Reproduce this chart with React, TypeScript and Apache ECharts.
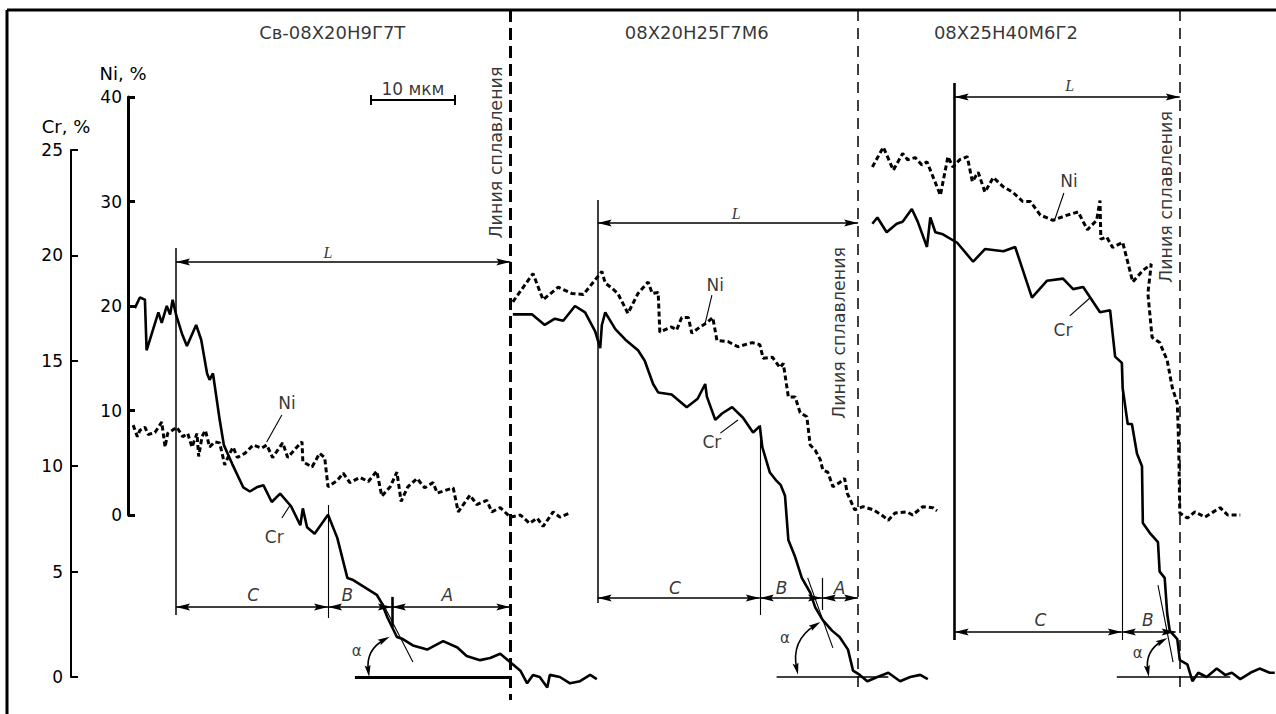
import React, { useEffect, useRef } from 'react';
import * as echarts from 'echarts';

type Pt = [number, number];

// ---------- axes ----------
const crAxisName = 'Cr, %';
const niAxisName = 'Ni, %';
const crTicks = { min: 0, max: 25, interval: 5 };
const niTicks = { min: 0, max: 40, interval: 10 };

// ---------- titles ----------
const panelTitles = ['Св-08Х20Н9Г7Т', '08Х20Н25Г7М6', '08Х25Н40М6Г2'];
const fusionLabel = 'Линия сплавления';
const scaleLabel = '10 мкм';

// ---------- data: x = distance, μm ; y = %, ----------
const crPanel1: Pt[] = [
  [7.6, 17.5], [8.2, 18.0], [8.8, 17.9], [9.0, 15.5], [10.4, 17.3], [10.8, 16.8], [11.4, 17.6], [11.8, 17.2],
  [12.1, 17.9], [12.5, 17.2], [13.2, 16.3], [13.8, 15.7], [14.9, 16.7], [15.5, 16.0], [16.2, 14.4], [16.5, 14.1],
  [16.9, 14.4], [17.7, 12.2], [18.2, 11.0], [19.2, 10.1], [20.5, 9.0], [21.3, 8.8], [22.1, 9.0], [22.9, 9.1],
  [23.9, 8.3], [24.9, 8.7], [26.2, 8.1], [27.3, 7.2], [27.6, 8.0], [28.1, 7.1], [29.0, 6.8], [30.6, 7.7],
  [31.7, 6.6], [32.9, 4.7], [33.6, 4.6], [36.4, 3.9], [37.0, 3.5], [37.7, 2.8], [38.8, 1.9], [39.5, 1.8],
  [40.7, 1.5], [42.4, 1.3], [44.3, 1.7], [46.0, 1.4], [47.1, 1.0], [48.7, 0.8], [49.9, 0.9], [51.1, 1.1],
  [52.3, 0.7], [53.5, 0.3], [54.3, -0.3], [55.0, 0.1], [55.8, 0.0], [56.7, -0.5], [57.0, 0.1], [58.2, 0.0],
  [59.4, -0.3], [60.6, -0.2], [61.8, 0.1], [62.6, -0.1],
];
const niPanel1: Pt[] = [
  [7.4, 8.6], [7.9, 7.5], [8.2, 8.1], [8.8, 8.4], [9.2, 7.7], [10.0, 7.9], [10.8, 8.9], [11.2, 6.5],
  [11.5, 7.8], [12.6, 8.4], [13.3, 7.5], [13.9, 7.8], [14.4, 6.5], [15.0, 7.8], [15.2, 5.6], [15.6, 7.5],
  [16.0, 8.1], [16.5, 6.5], [17.1, 7.0], [17.7, 6.9], [18.3, 4.8], [18.9, 5.9], [19.3, 6.5], [19.8, 5.5],
  [20.7, 5.9], [21.7, 6.7], [22.7, 6.4], [23.3, 6.7], [24.0, 5.5], [25.2, 6.9], [25.8, 5.5], [26.9, 6.5],
  [27.5, 7.0], [27.6, 5.1], [28.7, 4.6], [29.6, 5.9], [30.2, 5.5], [30.6, 2.7], [31.7, 3.3], [32.4, 4.0],
  [33.2, 3.1], [34.4, 3.6], [35.4, 3.2], [36.4, 4.2], [37.0, 1.8], [38.0, 2.7], [38.8, 4.1], [39.3, 1.3],
  [40.1, 2.7], [41.2, 3.5], [42.1, 2.6], [43.1, 3.1], [43.6, 2.1], [45.5, 2.6], [46.1, 0.3], [47.5, 1.9],
  [48.3, 1.0], [49.5, 1.4], [50.1, 0.3], [51.1, 0.7], [52.3, -0.2], [53.5, 0.0], [54.6, -0.8], [55.5, -0.3],
  [56.2, -1.1], [57.4, 0.3], [58.2, -0.2], [59.4, 0.2],
];
const crPanel2: Pt[] = [
  [52.6, 17.2], [54.9, 17.2], [56.4, 16.7], [57.6, 17.0], [58.6, 16.9], [60.0, 17.6], [61.2, 17.3], [62.4, 16.4],
  [63.0, 15.6], [63.2, 16.7], [63.6, 17.3], [64.8, 16.5], [66.0, 16.0], [67.5, 15.5], [68.3, 15.0], [69.3, 13.9],
  [69.9, 13.5], [71.5, 13.4], [73.3, 12.8], [74.6, 13.2], [75.5, 13.9], [75.7, 13.3], [76.7, 12.2], [77.5, 12.5],
  [78.7, 12.8], [80.0, 12.3], [81.2, 11.6], [82.0, 11.9], [82.3, 10.9], [83.2, 9.7], [84.0, 9.3], [84.5, 9.1],
  [85.0, 8.6], [85.4, 6.5], [86.2, 5.7], [87.0, 4.7], [88.0, 4.0], [88.6, 3.3], [89.5, 2.7], [90.6, 2.2],
  [91.5, 1.9], [92.5, 1.3], [93.1, 0.3], [93.9, 0.1], [94.8, -0.2], [96.0, 0.0], [97.3, 0.2], [98.7, -0.2],
  [99.9, 0.0], [101.1, 0.1], [102.0, -0.1],
];
const niPanel2: Pt[] = [
  [52.6, 20.4], [55.0, 23.1], [56.2, 20.6], [58.0, 21.8], [59.6, 21.2], [61.0, 21.1], [63.2, 23.3], [63.6, 22.2],
  [64.4, 21.7], [65.1, 21.2], [66.3, 19.3], [67.5, 21.2], [68.7, 22.3], [69.2, 21.2], [69.9, 21.3], [70.1, 17.5],
  [71.5, 18.0], [72.1, 17.7], [72.7, 18.9], [73.5, 18.9], [73.9, 17.4], [74.9, 18.0], [75.7, 18.4], [76.4, 18.9],
  [76.9, 16.7], [78.2, 16.6], [79.4, 16.1], [81.1, 16.5], [82.0, 16.3], [82.4, 15.0], [83.5, 15.1], [84.4, 14.1],
  [84.8, 14.5], [85.4, 11.3], [86.2, 11.3], [86.8, 9.8], [87.6, 9.4], [88.0, 6.7], [88.6, 6.2], [89.2, 5.3],
  [89.5, 4.3], [90.1, 4.1], [90.7, 2.7], [91.5, 3.1], [92.1, 3.5], [92.4, 2.1], [93.3, 0.5], [94.3, 0.8],
  [95.5, 0.5], [96.5, 0.0], [97.3, -0.5], [98.1, 0.2], [99.5, 0.3], [100.2, 0.0], [101.4, 0.8], [102.6, 0.7],
  [103.1, 0.4],
];
const crPanel3: Pt[] = [
  [95.4, 21.5], [96.0, 21.8], [97.1, 21.1], [98.3, 21.5], [99.0, 21.6], [100.1, 22.2], [100.8, 21.6], [101.9, 20.4],
  [102.3, 21.8], [102.9, 21.1], [103.8, 21.0], [105.5, 20.6], [107.4, 19.7], [108.8, 20.3], [111.0, 20.2], [112.4, 20.4],
  [114.4, 18.0], [116.2, 18.8], [118.1, 18.9], [119.3, 18.4], [120.5, 18.5], [122.5, 17.3], [123.7, 17.4], [124.3, 15.2],
  [125.1, 14.9], [125.2, 13.7], [125.8, 12.0], [126.3, 12.0], [126.9, 10.6], [127.5, 10.0], [127.6, 7.3], [128.5, 6.8],
  [129.4, 6.4], [129.6, 5.0], [130.2, 4.7], [130.5, 3.0], [130.8, 2.2], [131.7, 1.8], [132.0, 0.8], [132.9, 0.6],
  [133.5, -0.2], [134.2, 0.2], [135.2, 0.0], [136.4, 0.4], [137.4, 0.1], [138.2, 0.2], [139.2, -0.1], [140.4, 0.2],
  [141.5, 0.4], [142.7, 0.2], [143.3, 0.2],
];
const niPanel3: Pt[] = [
  [95.4, 33.3], [96.7, 35.2], [97.9, 33.0], [99.0, 34.6], [99.6, 34.0], [100.5, 34.2], [101.3, 33.5], [101.9, 33.8],
  [103.5, 30.6], [104.4, 34.3], [105.0, 33.3], [105.8, 34.0], [106.7, 34.3], [107.3, 31.9], [108.0, 32.8], [108.8, 30.9],
  [109.8, 32.3], [111.0, 31.4], [112.1, 30.9], [113.3, 30.0], [114.2, 30.0], [115.4, 28.7], [116.9, 28.2], [118.6, 28.7],
  [119.9, 29.0], [121.0, 27.3], [122.1, 28.2], [122.5, 30.1], [122.6, 26.4], [123.3, 26.6], [124.0, 25.6], [125.2, 26.1],
  [126.4, 22.3], [127.6, 23.4], [128.6, 24.0], [128.2, 21.2], [128.7, 17.0], [129.6, 16.5], [130.5, 14.8], [131.1, 12.2],
  [131.7, 10.7], [131.8, 8.4], [131.9, 5.3], [132.0, 0.2], [132.9, -0.3], [133.8, 0.3], [135.0, -0.2], [136.0, 0.3],
  [136.8, 0.7], [137.7, 0.0], [139.2, 0.0],
];

// ---------- annotation geometry (x in μm, y in Cr-% units) ----------
const fusionX = [52.3, 93.7, 132.0];
const fusionTop = 31.64;
const fusionBottom = [-1.09, -0.62, -0.62];
const fusionWidth = [3, 1.5, 1.5];
const lStartX = [12.5, 62.7, 105.2];
const lStartTop = [20.35, 22.63, 28.18];
const lStartBottom = [2.94, 3.51, 1.76];
const lStartWidth = [1.5, 1.5, 2.6];
const lArrowY = [19.69, 21.54, 27.51];
const dimY = [3.32, 3.75, 2.13];
const cEndX = [30.6, 82.0, 125.1];
const cDivTop = [8.16, 11.95, 14.9];
const cDivBottom = [2.8, 2.94, 1.76];
const bEndX = [38.2, 89.4, 131.5];
const aDiv: [number, number, number, number][] = [[38.2, 3.8, 2.37, 2.6], [89.4, 4.7, 3.18, 1.2]];
const baselines: [number, number, number][] = [[33.8, 52.3, 3], [84.0, 97.3, 1.5], [124.5, 138.0, 1.5]];
const tangents: [number, number, number, number][] = [[37.1, 3.51, 40.7, 0.71], [87.7, 4.7, 90.7, 1.38], [129.4, 4.36, 131.2, 0.71]];
const alphaArcs: [number, number, number, number][] = [[35.4, 0.28, 37.3, 1.77], [86.4, 0.38, 88.6, 2.46], [128.2, 0.28, 129.9, 1.71]];
const leaders: [number, number, number, number][] = [
  [25.1, 12.43, 23.3, 11.15], [25.1, 7.54, 26.1, 8.16],
  [76.3, 18.12, 75.5, 16.79], [77.3, 11.57, 79.4, 12.19],
  [118.2, 22.96, 117.1, 21.68], [118.9, 17.13, 121.3, 17.98],
];
const scaleBar = { x1: 35.7, x2: 45.7, y: 27.37, tick: 0.24 };

// text positions
const titlePos: Pt[] = [[31.1, 30.57], [74.5, 30.57], [111.3, 30.57]];
const fusionTextPos: Pt[] = [[50.6, 24.88], [91.4, 16.32], [130.4, 22.77]];
const lLabelPos: Pt[] = [[30.6, 20.16], [79.2, 22.0], [118.9, 28.08]];
const dimLabels: [number, number, string][] = [
  [21.7, 3.89, 'C'], [32.9, 3.89, 'B'], [44.8, 3.89, 'A'],
  [71.9, 4.22, 'C'], [84.6, 4.22, 'B'], [91.5, 4.22, 'A'],
  [115.4, 2.7, 'C'], [128.2, 2.7, 'B'],
];
const alphaPos: Pt[] = [[34.0, 1.23], [85.0, 1.85], [127.0, 1.14]];
const curveLabels: [number, number, string][] = [
  [25.7, 13.0, 'Ni'], [24.2, 6.64, 'Cr'],
  [76.7, 18.6, 'Ni'], [76.3, 11.15, 'Cr'],
  [118.8, 23.53, 'Ni'], [118.1, 16.46, 'Cr'],
];
const scaleTextPos: Pt = [40.7, 27.9];

// ---------- layout ----------
const W = 1276, H = 714;
const CR_LEFT = 71, CR_TOP = 150, CR_H = 527;
const NI_LEFT = 128, NI_TOP = 97, NI_H = 418;
const PX_PER_UM = 8.4;
const X_MAX = (W - CR_LEFT) / PX_PER_UM;
const NI_X_MIN = (NI_LEFT - CR_LEFT) / PX_PER_UM;
const CR_PX = CR_H / (crTicks.max - crTicks.min);
const ANN_MIN = -1.5, ANN_MAX = 32;
const ANN_TOP = CR_TOP + CR_H - ANN_MAX * CR_PX;
const ANN_H = (ANN_MAX - ANN_MIN) * CR_PX;
const FONT = 'DejaVu Sans';
const ARROW = 'path://M5,0L10,22L5,18L0,22Z';

function endPt(x: number, y: number, arrow: boolean, ls: any, size: number[]) {
  return {
    coord: [x, y],
    symbol: arrow ? ARROW : 'none',
    symbolSize: size,
    symbolOffset: [0, size[1] / 2],
    lineStyle: ls,
    itemStyle: { color: '#000' },
  };
}
function seg(x1: number, y1: number, x2: number, y2: number, ls: any, arrow = false, size = [7, 14]) {
  const style = { color: '#000', type: 'solid', ...ls };
  return [endPt(x1, y1, arrow, style, size), endPt(x2, y2, arrow, style, size)];
}

function buildMarkLines() {
  const d: any[] = [];
  fusionX.forEach((x, i) => {
    d.push(seg(x, fusionTop, x, fusionBottom[i], { width: fusionWidth[i], type: i === 0 ? [12, 6] : [11, 7] }));
  });
  lStartX.forEach((x, i) => {
    d.push(seg(x, lStartTop[i], x, lStartBottom[i], { width: lStartWidth[i] }));
    d.push(seg(x, lArrowY[i], fusionX[i], lArrowY[i], { width: 1.6 }, true));
    d.push(seg(x, dimY[i], cEndX[i], dimY[i], { width: 1.6 }, true));
    d.push(seg(cEndX[i], dimY[i], bEndX[i], dimY[i], { width: 1.6 }, true));
    d.push(seg(cEndX[i], cDivTop[i], cEndX[i], cDivBottom[i], { width: 1.1 }));
  });
  aDiv.forEach(([x, y1, y2, w], i) => {
    d.push(seg(x, y1, x, y2, { width: w }));
    d.push(seg(bEndX[i], dimY[i], fusionX[i], dimY[i], { width: 1.6 }, true));
  });
  baselines.forEach(([x1, x2, w]) => d.push(seg(x1, 0, x2, 0, { width: w })));
  tangents.forEach(([x1, y1, x2, y2]) => d.push(seg(x1, y1, x2, y2, { width: 1.1 })));
  leaders.forEach(([x1, y1, x2, y2]) => d.push(seg(x1, y1, x2, y2, { width: 1.1 })));
  d.push(seg(scaleBar.x1, scaleBar.y, scaleBar.x2, scaleBar.y, { width: 2 }));
  d.push(seg(scaleBar.x1, scaleBar.y - scaleBar.tick, scaleBar.x1, scaleBar.y + scaleBar.tick, { width: 2 }));
  d.push(seg(scaleBar.x2, scaleBar.y - scaleBar.tick, scaleBar.x2, scaleBar.y + scaleBar.tick, { width: 2 }));
  return d;
}

function textItem(p: Pt, text: string, label: any) {
  return { name: text, value: [p[0], p[1]], label };
}

function buildTexts() {
  const t: any[] = [];
  panelTitles.forEach((s, i) => t.push(textItem(titlePos[i], s, { fontSize: 18 })));
  fusionTextPos.forEach((p) => t.push(textItem(p, fusionLabel, { fontSize: 17.5, rotate: 90 })));
  lLabelPos.forEach((p) => t.push(textItem(p, 'L', { fontSize: 16, fontStyle: 'italic', fontFamily: 'Liberation Serif' })));
  dimLabels.forEach(([x, y, s]) => t.push(textItem([x, y], s, { fontSize: 17, fontStyle: 'italic' })));
  alphaPos.forEach((p) => t.push(textItem(p, 'α', { fontSize: 15 })));
  curveLabels.forEach(([x, y, s]) => t.push(textItem([x, y], s, { fontSize: 17 })));
  t.push(textItem(scaleTextPos, scaleLabel, { fontSize: 17 }));
  return t;
}

function lineSeries(data: Pt[], isNi: boolean) {
  return {
    type: 'line',
    xAxisIndex: isNi ? 1 : 0,
    yAxisIndex: isNi ? 1 : 0,
    data,
    symbol: 'none',
    showSymbol: false,
    clip: false,
    silent: true,
    z: 3,
    lineStyle: isNi ? { color: '#000', width: 3, type: [5, 3] } : { color: '#000', width: 2.6 },
  };
}

function axisY(gridIndex: number, t: { min: number; max: number; interval: number }, name: string, w: number, margin: number) {
  return {
    type: 'value', gridIndex, min: t.min, max: t.max, interval: t.interval, position: 'left',
    name, nameLocation: 'end', nameGap: 15,
    nameTextStyle: { color: '#000', fontFamily: FONT, fontSize: 18, padding: [0, 10, 0, 0] },
    axisLine: { show: true, onZero: false, lineStyle: { color: '#000', width: w } },
    axisTick: { show: true, inside: true, length: 7, lineStyle: { color: '#000', width: w } },
    axisLabel: { show: true, margin, color: '#000', fontFamily: FONT, fontSize: 17 },
    splitLine: { show: false },
  };
}

export default function App() {
  const ref = useRef<HTMLDivElement>(null);
  useEffect(() => {
    if (!ref.current) return;
    const chart = echarts.init(ref.current, undefined, { renderer: 'svg' });
    const option: any = {
      animation: false,
      backgroundColor: '#fff',
      grid: [
        { left: CR_LEFT, top: CR_TOP, width: W - CR_LEFT, height: CR_H },
        { left: NI_LEFT, top: NI_TOP, width: W - NI_LEFT, height: NI_H },
        { left: CR_LEFT, top: ANN_TOP, width: W - CR_LEFT, height: ANN_H },
      ],
      xAxis: [
        { type: 'value', gridIndex: 0, min: 0, max: X_MAX, show: false },
        { type: 'value', gridIndex: 1, min: NI_X_MIN, max: X_MAX, show: false },
        { type: 'value', gridIndex: 2, min: 0, max: X_MAX, show: false },
      ],
      yAxis: [
        axisY(0, crTicks, crAxisName, 2, 8),
        axisY(1, niTicks, niAxisName, 3, 6),
        { type: 'value', gridIndex: 2, min: ANN_MIN, max: ANN_MAX, show: false },
      ],
      graphic: [
        { type: 'line', shape: { x1: 7, y1: 10, x2: W, y2: 10 }, style: { stroke: '#000', lineWidth: 3 } },
        { type: 'line', shape: { x1: 7, y1: 10, x2: 7, y2: H }, style: { stroke: '#000', lineWidth: 3 } },
      ],
      series: [
        lineSeries(crPanel1, false),
        lineSeries(niPanel1, true),
        lineSeries(crPanel2, false),
        lineSeries(niPanel2, true),
        lineSeries(crPanel3, false),
        lineSeries(niPanel3, true),
        {
          type: 'lines', coordinateSystem: 'cartesian2d', xAxisIndex: 2, yAxisIndex: 2, silent: true,
          symbol: [ARROW, ARROW], symbolSize: [[6, 12], [6, 12]],
          lineStyle: { color: '#000', width: 1.6, curveness: 0.35, opacity: 1 },
          effect: { show: false },
          z: 4,
          data: alphaArcs.map(([x1, y1, x2, y2]) => ({ coords: [[x1, y1], [x2, y2]] })),
        },
        {
          type: 'scatter', xAxisIndex: 2, yAxisIndex: 2, symbol: 'circle', symbolSize: 0, silent: true,
          itemStyle: { color: '#000' },
          label: { show: true, position: 'inside', formatter: '{b}', color: '#000', fontFamily: FONT, fontSize: 17 },
          data: buildTexts(),
          markLine: {
            silent: true, animation: false,
            symbol: ['none', 'none'],
            label: { show: false },
            emphasis: { disabled: true },
            lineStyle: { color: '#000', width: 1.5, type: 'solid' },
            data: buildMarkLines(),
          },
        },
      ],
    };
    chart.setOption(option);
    return () => chart.dispose();
  }, []);
  return <div ref={ref} style={{ position: 'fixed', left: 0, top: 0, width: W, height: H, background: '#fff' }} />;
}
